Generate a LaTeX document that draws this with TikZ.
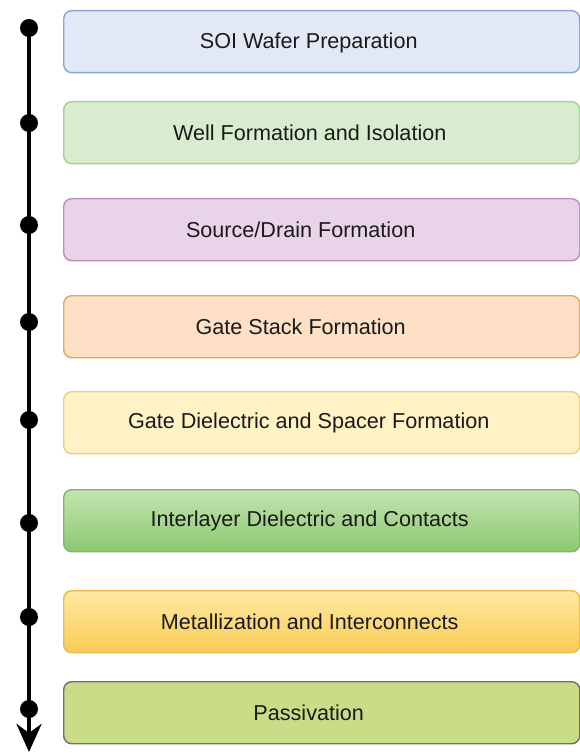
\documentclass[tikz,border=0pt]{standalone}
\usepackage{fontspec}
\setmainfont{Liberation Sans}
\usetikzlibrary{arrows.meta}
\definecolor{f1}{HTML}{E2E8F6}\definecolor{b1}{HTML}{8EA4D2}
\definecolor{f2}{HTML}{D8ECD0}\definecolor{b2}{HTML}{A3D18F}
\definecolor{f3}{HTML}{E8D3E8}\definecolor{b3}{HTML}{B88FBE}
\definecolor{f4}{HTML}{FDE0C5}\definecolor{b4}{HTML}{E7A85C}
\definecolor{f5}{HTML}{FFF2C5}\definecolor{b5}{HTML}{EDCF7C}
\definecolor{f6t}{HTML}{C4E4B0}\definecolor{f6b}{HTML}{8CC870}\definecolor{b6}{HTML}{7DB865}
\definecolor{f7t}{HTML}{FFE9A2}\definecolor{f7b}{HTML}{F9CC55}\definecolor{b7}{HTML}{EBBB48}
\definecolor{f8}{HTML}{C9DD89}\definecolor{b8}{HTML}{6F6F6F}
\definecolor{txt}{HTML}{1A1A1A}
\tikzset{
  stage/.style={draw, rounded corners=8pt, line width=1.4pt, minimum width=516pt, minimum height=62pt, inner sep=0pt, anchor=north west},
  stagetext/.style={text=txt, font=\fontsize{21.6}{25}\selectfont, inner sep=0pt},
  dot/.style={circle, fill=black, minimum size=18pt, inner sep=0pt},
}
\begin{document}
\begin{tikzpicture}[x=1pt,y=-1pt]
\useasboundingbox (0,0) rectangle (580,754);
\fill[white] (0,0) rectangle (580,754);
% boxes
\node[stage, draw=b1, fill=f1] (s1) at (63,10) {};
\node[stage, draw=b2, fill=f2] (s2) at (63,101) {};
\node[stage, draw=b3, fill=f3] (s3) at (63,198) {};
\node[stage, draw=b4, fill=f4] (s4) at (63,295) {};
\node[stage, draw=b5, fill=f5] (s5) at (63,391) {};
\node[stage, draw=b6, top color=f6t, bottom color=f6b] (s6) at (63,489) {};
\node[stage, draw=b7, top color=f7t, bottom color=f7b] (s7) at (63,590) {};
\node[stage, draw=b8, fill=f8] (s8) at (63,681) {};
% texts
\node[stagetext] (t1) at ([xshift=-13pt, yshift=-1pt]s1.center) {SOI Wafer Preparation};
\node[stagetext] (t2) at ([xshift=-12pt]s2.center) {Well Formation and Isolation};
\node[stagetext] (t3) at ([xshift=-21pt]s3.center) {Source/Drain Formation};
\node[stagetext] (t4) at ([xshift=-21pt]s4.center) {Gate Stack Formation};
\node[stagetext] (t5) at ([xshift=-13pt]s5.center) {Gate Dielectric and Spacer Formation};
\node[stagetext] (t6) at ([xshift=-12pt]s6.center) {Interlayer Dielectric and Contacts};
\node[stagetext] (t7) at ([xshift=-12pt]s7.center) {Metallization and Interconnects};
\node[stagetext] (t8) at ([xshift=-13pt]s8.center) {Passivation};
% timeline
\coordinate (top) at (29,28);
\coordinate (tip) at (29,752);
\draw[line width=4.5pt, -{Stealth[length=28pt, width=25pt, inset=9pt]}] (top) -- (tip);
\node[dot] (d1) at (29,28) {};
\node[dot] (d2) at (29,123) {};
\node[dot] (d3) at (29,225) {};
\node[dot] (d4) at (29,322) {};
\node[dot] (d5) at (29,420) {};
\node[dot] (d6) at (29,523) {};
\node[dot] (d7) at (29,617) {};
\node[dot] (d8) at (29,709) {};
\end{tikzpicture}
\end{document}
